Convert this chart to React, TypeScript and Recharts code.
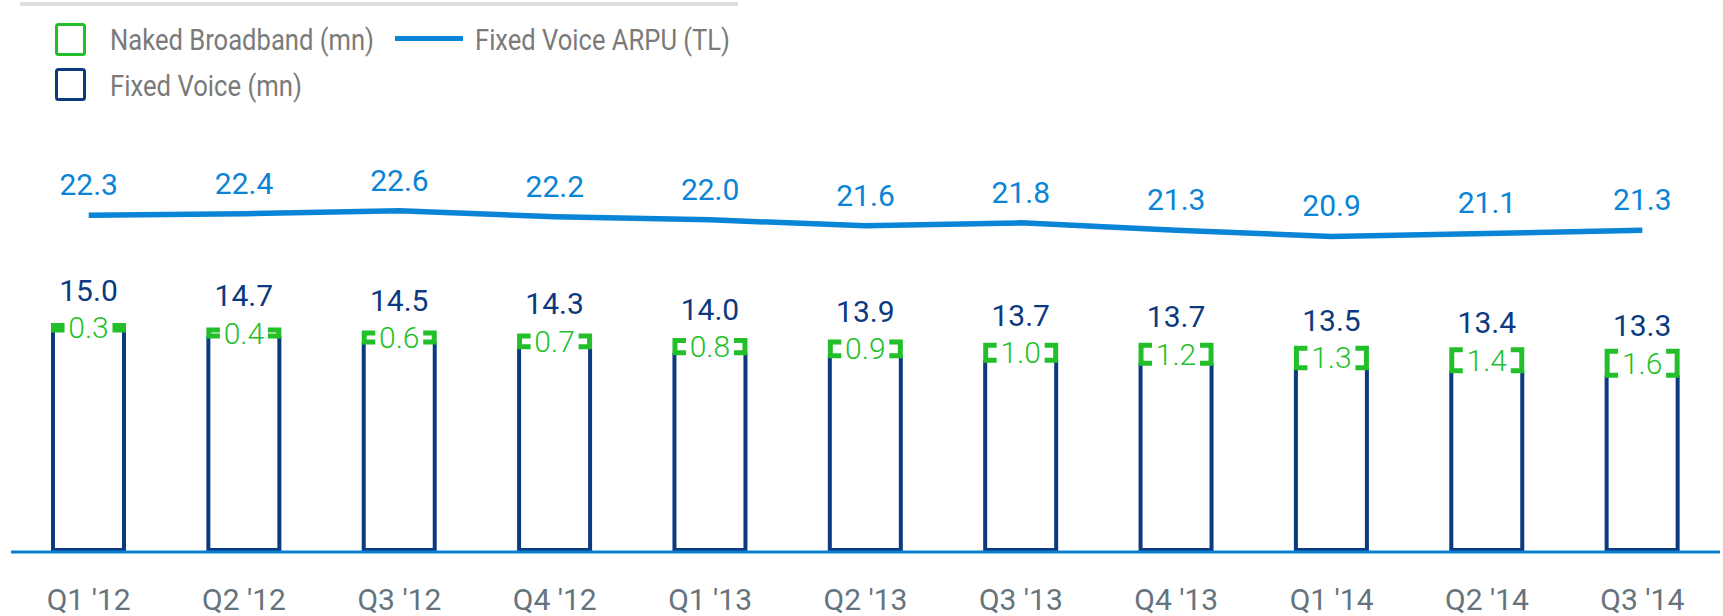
import React from "react";
import { Bar, ComposedChart, LabelList, Line, XAxis, YAxis } from "recharts";

const quarters = ["Q1 '12", "Q2 '12", "Q3 '12", "Q4 '12", "Q1 '13", "Q2 '13", "Q3 '13", "Q4 '13", "Q1 '14", "Q2 '14", "Q3 '14"];
const fixedVoice = [15.0, 14.7, 14.5, 14.3, 14.0, 13.9, 13.7, 13.7, 13.5, 13.4, 13.3];
const nakedBroadband = [0.3, 0.4, 0.6, 0.7, 0.8, 0.9, 1.0, 1.2, 1.3, 1.4, 1.6];
const voiceArpu = [22.3, 22.4, 22.6, 22.2, 22.0, 21.6, 21.8, 21.3, 20.9, 21.1, 21.3];

const NAVY = "#0b3a80";
const GREEN = "#22bf2a";
const BLUE = "#0984d7";
const FONT = "Roboto, 'Noto Sans', sans-serif";

// the naked broadband segment sits inside the top of the fixed voice bar
const data = quarters.map((q, i) => ({
  q,
  voiceOnly: Math.round((fixedVoice[i] - nakedBroadband[i]) * 10) / 10,
  nb: nakedBroadband[i],
  fv: fixedVoice[i],
  arpu: voiceArpu[i],
}));

const fmt = (v: any) => Number(v).toFixed(1);

function VoiceShape(props: any) {
  const { x, y, width, height } = props;
  const s = 2;
  return (
    <path
      d={`M${x + s},${y} L${x + s},${y + height - s} L${x + width - s},${y + height - s} L${x + width - s},${y}`}
      fill="none"
      stroke={NAVY}
      strokeWidth={4}
    />
  );
}

function BroadbandShape(props: any) {
  const { x, y, width, height } = props;
  const s = 2.5;
  const cx = x + width / 2;
  const gap = 24;
  return (
    <g fill="none" stroke={GREEN} strokeWidth={5}>
      <path d={`M${cx - gap},${y} L${x + s},${y} L${x + s},${y + height} L${cx - gap},${y + height}`} />
      <path d={`M${cx + gap},${y} L${x + width - s},${y} L${x + width - s},${y + height} L${cx + gap},${y + height}`} />
    </g>
  );
}

function NbLabel(props: any) {
  const { x, y, width, height, value } = props;
  return (
    <text x={x + width / 2} y={y + height / 2 + 10.5} textAnchor="middle" fill={GREEN} fontSize={30} fontWeight={300} fontFamily={FONT}>
      {fmt(value)}
    </text>
  );
}

function TotalLabel(props: any) {
  const { x, y, width, height, value } = props;
  return (
    <text x={x + width / 2} y={y + height / 2 - 27} textAnchor="middle" fill={NAVY} fontSize={30} fontFamily={FONT}>
      {fmt(value)}
    </text>
  );
}

function QuarterTick(props: any) {
  const { x, y, payload } = props;
  return (
    <text x={x} y={y + 58} textAnchor="middle" fill="#65737c" fontSize={30} fontFamily={FONT}>
      {payload.value}
    </text>
  );
}

function LegendOverlay() {
  const txt = { fill: "#7a7a7a", fontSize: 30, fontFamily: FONT };
  return (
    <svg width={1723} height={110} style={{ position: "absolute", left: 0, top: 0 }}>
      <line x1={20} y1={4} x2={738} y2={4} stroke="#e0e0e0" strokeWidth={4} />
      <rect x={56.5} y={24.5} width={28} height={30} rx={2} fill="none" stroke={GREEN} strokeWidth={3} />
      <text x={110} y={50} textLength={264} lengthAdjust="spacingAndGlyphs" {...txt}>Naked Broadband (mn)</text>
      <line x1={395} y1={38.5} x2={463} y2={38.5} stroke={BLUE} strokeWidth={5} />
      <text x={475} y={50} textLength={255} lengthAdjust="spacingAndGlyphs" {...txt}>Fixed Voice ARPU (TL)</text>
      <rect x={56.5} y={69.5} width={28} height={30} rx={2} fill="none" stroke={NAVY} strokeWidth={3} />
      <text x={110} y={96} textLength={192} lengthAdjust="spacingAndGlyphs" {...txt}>Fixed Voice (mn)</text>
    </svg>
  );
}

export default function App() {
  return (
    <div style={{ position: "absolute", left: 0, top: 0, width: 1723, height: 616, background: "#fff", fontFamily: FONT }}>
      <ComposedChart width={1723} height={616} data={data} margin={{ top: 99, right: 3, left: 11, bottom: 0 }}>
        <XAxis
          dataKey="q"
          height={64}
          interval={0}
          tickLine={false}
          tickSize={0}
          tickMargin={0}
          axisLine={{ stroke: "#0a80d2", strokeWidth: 3 }}
          tick={<QuarterTick />}
        />
        <YAxis hide domain={[0, 30]} />
        <Bar dataKey="voiceOnly" stackId="a" barSize={75} shape={<VoiceShape />} isAnimationActive={false} />
        <Bar dataKey="nb" stackId="a" barSize={75} shape={<BroadbandShape />} isAnimationActive={false}>
          <LabelList dataKey="nb" content={<NbLabel />} />
          <LabelList dataKey="fv" content={<TotalLabel />} />
        </Bar>
        <Line
          dataKey="arpu"
          type="linear"
          stroke={BLUE}
          strokeWidth={5.5}
          dot={false}
          activeDot={false}
          isAnimationActive={false}
        >
          <LabelList dataKey="arpu" position="top" offset={20} fill={BLUE} fontSize={30} fontFamily={FONT} formatter={fmt} />
        </Line>
      </ComposedChart>
      <LegendOverlay />
    </div>
  );
}
